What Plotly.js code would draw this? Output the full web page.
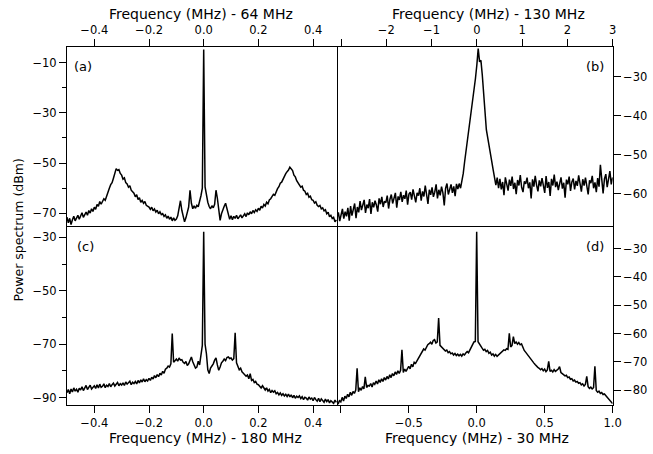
<!DOCTYPE html>
<html><head><meta charset="utf-8">
<script src="https://cdn.plot.ly/plotly-3.0.1.min.js"></script>
<style>html,body{margin:0;padding:0;background:#fff}#chart{width:653px;height:454px}</style>
</head><body><div id="chart"></div>
<script>
// Panel (a): Frequency (MHz) - 64 MHz
const freqStartA = -0.5, freqStepA = 0.005;
const powerA = [
-71.5,-73.8,-72.0,-74.5,-72.6,-71.2,-73.0,-72.1,-70.8,-72.4,
-71.0,-69.8,-71.6,-70.2,-69.5,-70.8,-68.9,-69.9,-68.2,-69.3,
-67.6,-68.4,-66.5,-67.2,-65.3,-66.4,-65.0,-64.2,-64.8,-62.9,
-61.5,-60.0,-58.6,-57.8,-56.0,-53.9,-52.2,-52.9,-52.6,-54.1,
-54.8,-56.4,-55.9,-57.8,-58.3,-59.6,-59.0,-60.8,-61.3,-62.0,
-63.4,-62.6,-64.5,-63.8,-65.6,-64.9,-66.0,-65.3,-66.8,-67.1,
-67.5,-68.4,-67.6,-69.0,-68.3,-69.5,-68.8,-70.2,-69.4,-70.5,
-70.1,-71.2,-70.6,-72.0,-71.1,-72.4,-71.5,-73.0,-71.8,-72.8,
-72.3,-71.0,-68.2,-65.0,-68.8,-70.6,-73.4,-71.8,-69.6,-67.5,
-60.8,-66.0,-68.2,-67.0,-68.0,-66.8,-67.4,-65.5,-63.0,-60.0,
-4.7,
-59.5,-62.8,-65.6,-67.3,-68.2,-67.0,-67.8,-66.4,-60.8,
-64.0,-69.5,-72.8,-70.2,-68.4,-67.2,-66.0,-67.8,-70.5,-72.4,
-71.0,-72.6,-71.2,-72.0,-70.8,-72.2,-71.4,-70.6,-71.8,-70.9,
-70.2,-71.3,-69.8,-70.6,-69.4,-70.2,-68.9,-69.7,-68.6,-69.2,
-68.0,-68.8,-67.2,-67.9,-66.5,-67.1,-65.6,-66.2,-64.7,-64.2,
-63.5,-62.4,-62.8,-61.0,-60.2,-59.4,-58.0,-57.6,-56.2,-55.0,
-54.2,-53.4,-52.8,-51.6,-52.5,-53.0,-54.8,-55.5,-57.0,-57.8,
-58.4,-59.6,-59.2,-60.8,-61.2,-62.5,-62.0,-63.6,-63.2,-64.6,
-64.8,-65.9,-65.4,-66.8,-67.3,-66.9,-68.2,-67.8,-69.0,-68.6,
-70.2,-69.6,-71.4,-70.8,-72.1,-71.6,-73.4,-72.6
];

// Panel (b): Frequency (MHz) - 130 MHz
const freqStartB = -3.09, freqStepB = 0.03;
const powerB = [
-66.2,-64.8,-67.0,-65.3,-63.9,-66.4,-64.6,-65.8,-63.6,-66.9,
-63.2,-65.6,-64.0,-62.5,-66.3,-63.4,-64.8,-61.9,-64.2,-63.0,
-61.6,-64.9,-62.8,-63.7,-61.4,-65.2,-62.2,-63.5,-61.8,-62.9,
-64.6,-61.2,-62.7,-60.8,-63.4,-61.9,-62.3,-60.5,-63.8,-61.4,
-60.2,-62.5,-61.0,-59.8,-63.6,-60.7,-61.6,-59.5,-62.1,-60.4,
-61.3,-59.2,-62.8,-60.1,-59.6,-61.5,-58.9,-60.6,-62.2,-59.8,
-60.5,-58.6,-61.8,-59.4,-60.7,-57.9,-60.1,-62.6,-59.0,-60.3,
-58.4,-60.8,-59.6,-57.6,-61.2,-59.0,-60.4,-58.2,-59.8,-63.0,
-58.6,-57.4,-60.2,-58.9,-57.6,-59.8,-58.1,-60.6,-57.5,-58.8,
-57.4,-58.6,-57.0,-54.8,-51.8,-49.2,-46.6,-43.8,-41.2,-38.6,
-36.4,-33.2,-30.4,-27.0,-22.8,-26.2,-25.8,-29.5,-34.0,-39.2,
-43.6,-45.6,-47.4,-49.6,-51.8,-53.8,-55.6,-57.8,-55.9,-58.6,
-56.2,-58.9,-57.0,-60.4,-55.8,-57.6,-59.2,-56.4,-58.0,-55.6,
-58.8,-57.2,-60.1,-56.5,-57.9,-55.2,-58.4,-59.6,-56.8,-57.5,
-55.9,-58.6,-57.1,-61.2,-56.3,-58.2,-55.4,-57.8,-59.4,-56.6,
-58.1,-56.0,-57.7,-59.8,-55.5,-58.5,-57.0,-60.6,-56.2,-57.9,
-55.1,-58.3,-56.9,-59.1,-57.4,-55.8,-58.7,-57.2,-61.0,-56.4,
-57.6,-55.6,-59.3,-57.0,-56.1,-58.9,-56.7,-58.0,-55.3,-57.8,
-59.5,-56.3,-57.9,-55.9,-58.4,-60.2,-56.6,-57.3,-55.4,-58.6,
-57.1,-59.6,-56.0,-58.2,-52.6,-57.4,-59.9,-56.2,-55.0,-58.3,
-56.5,-54.2,-57.6,-55.8
];

// Panel (c): Frequency (MHz) - 180 MHz
const freqStartC = -0.5, freqStepC = 0.005;
const powerC = [
-88.2,-87.0,-88.6,-86.8,-87.9,-86.4,-87.6,-86.9,-88.0,-86.5,
-87.2,-86.0,-87.4,-86.6,-85.5,-87.0,-86.2,-85.4,-86.8,-86.0,
-85.6,-86.6,-85.2,-86.4,-85.0,-86.2,-85.8,-84.9,-86.3,-85.4,
-85.9,-84.8,-86.0,-85.2,-84.6,-85.7,-85.0,-84.4,-85.6,-84.8,
-85.3,-84.5,-85.5,-84.2,-85.0,-84.6,-83.9,-85.2,-84.3,-84.8,
-84.0,-84.9,-83.6,-84.5,-83.4,-84.2,-83.0,-84.1,-83.3,-83.8,
-82.8,-83.6,-82.4,-83.1,-81.8,-82.6,-81.4,-82.2,-80.9,-81.6,
-80.2,-80.9,-79.4,-79.0,-78.2,-78.6,-77.4,-66.0,-76.8,-76.2,
-75.6,-76.4,-75.2,-76.0,-75.8,-76.8,-77.2,-76.5,-78.0,-77.4,
-76.0,-74.8,-76.6,-78.2,-79.0,-78.6,-76.4,-77.8,-74.5,-70.5,
-27.9,
-70.0,-73.6,-79.6,-81.0,-79.0,-78.2,-77.4,-76.0,-75.2,
-77.8,-79.8,-78.6,-77.0,-76.4,-75.6,-76.2,-75.0,-74.8,-75.4,
-75.2,-76.0,-75.5,-65.8,-77.0,-78.2,-79.6,-79.0,-80.4,-80.9,
-81.4,-82.0,-81.6,-83.0,-81.1,-83.6,-83.2,-84.4,-84.0,-85.0,
-85.2,-85.8,-86.4,-85.6,-86.6,-87.2,-86.4,-87.6,-87.0,-88.2,
-87.4,-88.0,-87.5,-88.6,-88.1,-89.0,-88.3,-89.2,-88.6,-89.4,
-88.8,-89.6,-88.7,-89.8,-89.0,-90.1,-89.2,-90.3,-89.5,-90.0,
-89.4,-90.4,-89.7,-90.8,-89.9,-90.2,-91.0,-89.8,-90.6,-90.2,
-91.2,-90.0,-90.8,-91.4,-90.3,-91.6,-90.5,-91.0,-91.8,-90.6,
-91.5,-90.8,-92.0,-91.2,-91.7,-92.2,-91.0,-91.8
];

// Panel (d): Frequency (MHz) - 30 MHz
const freqStartD = -1.04, freqStepD = 0.01;
const powerD = [
-84.6,-83.4,-85.0,-83.8,-84.2,-82.6,-83.9,-82.2,-83.0,-81.5,
-82.4,-80.8,-81.9,-80.5,-81.2,-80.0,-72.3,-80.6,-79.2,-80.1,
-78.8,-79.6,-75.3,-79.1,-78.4,-78.6,-77.7,-78.9,-77.4,-78.0,
-76.8,-77.9,-76.4,-77.3,-76.0,-77.0,-75.6,-76.5,-75.2,-76.1,
-74.6,-75.6,-74.2,-75.0,-73.6,-74.5,-73.2,-74.1,-73.0,-65.8,
-73.8,-72.6,-73.4,-72.2,-71.6,-72.5,-70.9,-71.8,-70.2,-70.6,
-69.8,-69.0,-68.2,-67.6,-66.8,-65.5,-65.9,-64.6,-64.0,-63.6,
-63.1,-63.8,-62.5,-62.2,-63.4,-63.0,-54.5,-64.2,-64.8,-65.3,
-65.6,-66.2,-65.9,-66.8,-66.4,-67.2,-66.9,-67.6,-67.1,-67.8,
-67.3,-67.9,-67.4,-68.0,-67.2,-67.6,-66.9,-66.4,-66.8,-65.8,
-65.2,-64.4,-63.0,-62.8,
-24.0,
-62.9,-63.8,-64.6,-65.2,-65.9,
-65.6,-66.4,-66.0,-67.0,-66.6,-67.6,-67.2,-68.0,-67.4,-68.1,
-67.6,-67.0,-66.8,-66.2,-65.8,-66.0,-65.4,-65.6,-59.9,-64.8,
-64.2,-61.1,-63.6,-63.0,-63.8,-63.2,-64.0,-63.7,-65.2,-66.0,
-66.6,-67.3,-67.8,-68.6,-69.1,-69.8,-70.4,-71.0,-71.6,-72.0,
-72.3,-72.8,-72.4,-73.2,-72.6,-73.5,-72.9,-69.9,-73.4,-73.0,
-73.6,-72.8,-73.4,-73.0,-72.6,-71.7,-73.8,-74.2,-74.6,-75.0,
-74.8,-75.6,-75.4,-76.2,-76.0,-76.8,-76.5,-77.2,-77.0,-77.6,
-77.4,-78.2,-77.8,-78.6,-78.0,-75.2,-78.8,-79.4,-79.0,-79.6,
-79.2,-71.6,-80.2,-80.8,-80.4,-81.2,-80.9,-81.6,-81.4,-82.0,
-82.6,-82.8,-83.4,-84.0,-84.8
];

const panelLabels = ['(a)', '(b)', '(c)', '(d)'];
const xTitles = ['Frequency (MHz) - 64 MHz', 'Frequency (MHz) - 130 MHz', 'Frequency (MHz) - 180 MHz', 'Frequency (MHz) - 30 MHz'];
const yTitle = 'Power spectrum (dBm)';

const M = '\u2212';
const lineStyle = {color: '#000', width: 1.5};
function tr(x0, dx, y, xa, ya) {
  return {type: 'scatter', mode: 'lines', x0: x0, dx: dx, y: y, xaxis: xa, yaxis: ya,
          line: lineStyle, hoverinfo: 'skip'};
}
const data = [
  tr(freqStartA, freqStepA, powerA, 'x', 'y'),
  tr(freqStartB, freqStepB, powerB, 'x2', 'y2'),
  tr(freqStartC, freqStepC, powerC, 'x3', 'y3'),
  tr(freqStartD, freqStepD, powerD, 'x4', 'y4')
];

const FONT = 'DejaVu Sans, sans-serif';
const tickFont = {family: FONT, size: 11.5, color: '#000'};
function ax(extra) {
  return Object.assign({
    showline: true, linecolor: '#000', linewidth: 1, mirror: true,
    ticks: 'outside', ticklen: 7, tickwidth: 1, tickcolor: '#000',
    showgrid: false, zeroline: false, fixedrange: true, tickfont: tickFont
  }, extra);
}
const minorY = {tickmode: 'linear', tick0: 0, dtick: 10, ticks: 'outside', ticklen: 4, tickcolor: '#000', tickwidth: 1, showgrid: false};

const xL = [67/653, 337/653], xR = [337/653, 612.7/653];
const yT = [1 - 226/454, 1 - 46.7/454], yB = [1 - 404.7/454, 1 - 226/454];

const layout = {
  width: 653, height: 454,
  margin: {l: 0, r: 0, t: 0, b: 0, pad: 0},
  showlegend: false,
  paper_bgcolor: '#fff', plot_bgcolor: '#fff',
  font: {family: FONT, size: 12, color: '#000'},
  xaxis: ax({domain: xL, anchor: 'y', side: 'top', range: [-0.4998, 0.4874],
             tickvals: [-0.4, -0.2, 0, 0.2, 0.4], tickformat: '.1f'}),
  yaxis: ax({domain: yT, anchor: 'x', side: 'left', range: [-75.06, -3.63],
             tickvals: [-70, -50, -30, -10], minor: minorY}),
  xaxis2: ax({domain: xR, anchor: 'y2', side: 'top', range: [-3.09, 3.002],
              tickvals: [-3, -2, -1, 0, 1, 2, 3], ticktext: ['', M + '2', M + '1', '0', '1', '2', '3']}),
  yaxis2: ax({domain: yT, anchor: 'x2', side: 'right', range: [-68.28, -22.31], mirror: false,
              tickvals: [-60, -50, -40, -30]}),
  xaxis3: ax({domain: xL, anchor: 'y3', side: 'bottom', range: [-0.4998, 0.4874], mirror: false,
              tickvals: [-0.4, -0.2, 0, 0.2, 0.4], tickformat: '.1f'}),
  yaxis3: ax({domain: yB, anchor: 'x3', side: 'left', range: [-92.7, -25.75],
              tickvals: [-90, -70, -50, -30], minor: minorY}),
  xaxis4: ax({domain: xR, anchor: 'y4', side: 'bottom', range: [-1.028, 1.001], mirror: false,
              tickvals: [-1, -0.5, 0, 0.5, 1], ticktext: ['', M + '0.5', '0.0', '0.5', '1.0']}),
  yaxis4: ax({domain: yB, anchor: 'x4', side: 'right', range: [-85.2, -21.97], mirror: false,
              tickvals: [-80, -70, -60, -50, -40, -30]}),
  annotations: [
    {xref: 'paper', yref: 'paper', x: 200.5/653, y: 1 - 14/454, text: xTitles[0], showarrow: false, xanchor: 'center', yanchor: 'middle', font: {family: FONT, size: 14}},
    {xref: 'paper', yref: 'paper', x: 488.3/653, y: 1 - 14/454, text: xTitles[1], showarrow: false, xanchor: 'center', yanchor: 'middle', font: {family: FONT, size: 14}},
    {xref: 'paper', yref: 'paper', x: 205/653, y: 1 - 438.3/454, text: xTitles[2], showarrow: false, xanchor: 'center', yanchor: 'middle', font: {family: FONT, size: 14}},
    {xref: 'paper', yref: 'paper', x: 476.7/653, y: 1 - 438.3/454, text: xTitles[3], showarrow: false, xanchor: 'center', yanchor: 'middle', font: {family: FONT, size: 14}},
    {xref: 'paper', yref: 'paper', x: 17.5/653, y: 1 - 230/454, text: yTitle, textangle: -90, showarrow: false, xanchor: 'center', yanchor: 'middle', font: {family: FONT, size: 12.5}},
    {xref: 'paper', yref: 'paper', x: 72/653, y: 1 - 66.7/454, text: panelLabels[0], showarrow: false, xanchor: 'left', yanchor: 'middle', font: {family: FONT, size: 13}},
    {xref: 'paper', yref: 'paper', x: 606/653, y: 1 - 66.7/454, text: panelLabels[1], showarrow: false, xanchor: 'right', yanchor: 'middle', font: {family: FONT, size: 13}},
    {xref: 'paper', yref: 'paper', x: 75/653, y: 1 - 246.7/454, text: panelLabels[2], showarrow: false, xanchor: 'left', yanchor: 'middle', font: {family: FONT, size: 13}},
    {xref: 'paper', yref: 'paper', x: 606/653, y: 1 - 246.7/454, text: panelLabels[3], showarrow: false, xanchor: 'right', yanchor: 'middle', font: {family: FONT, size: 13}}
  ]
};

Plotly.newPlot('chart', data, layout, {displayModeBar: false, staticPlot: true});
</script>
</body></html>
